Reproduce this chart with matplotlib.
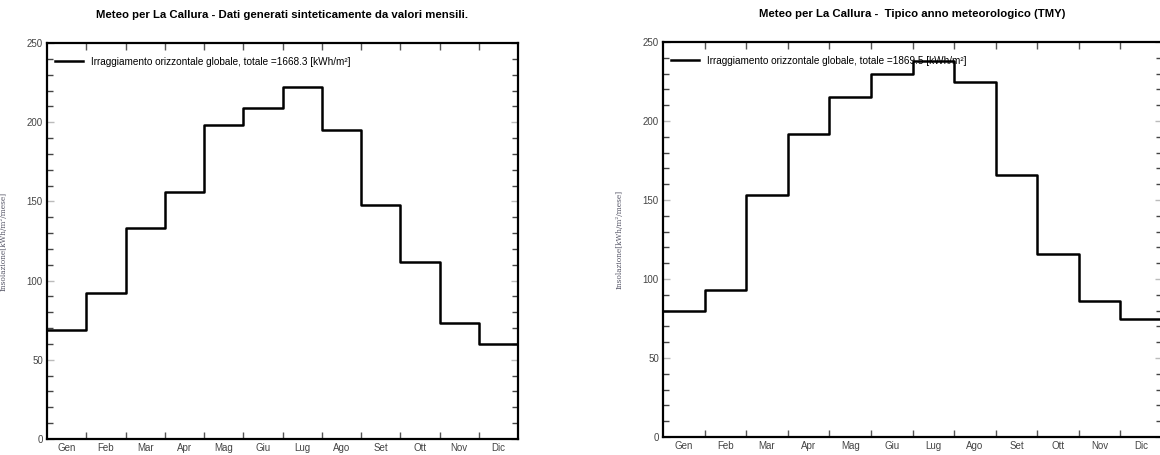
import matplotlib.pyplot as plt
from matplotlib.ticker import MultipleLocator, FixedLocator, NullFormatter

plt.rcParams['font.family'] = ['Liberation Sans', 'DejaVu Sans']

# monthly global horizontal irradiation [kWh/m2/month]
mesi = ["Gen", "Feb", "Mar", "Apr", "Mag", "Giu", "Lug", "Ago", "Set", "Ott", "Nov", "Dic"]
sintetici = [69, 92, 133, 156, 198, 209, 222, 195, 148, 112, 73, 60]
tmy = [80, 93, 153, 192, 215, 230, 238, 225, 166, 116, 86, 75]

titoli = ["Meteo per La Callura - Dati generati sinteticamente da valori mensili.",
          "Meteo per La Callura -  Tipico anno meteorologico (TMY)"]
legende = ["Irraggiamento orizzontale globale, totale =1668.3 [kWh/m\u00b2]",
           "Irraggiamento orizzontale globale, totale =1869.5 [kWh/m\u00b2]"]

W, H = 1160, 455
fig = plt.figure(figsize=(W / 100, H / 100), dpi=100)

# axes boxes in pixels: left, right, top, bottom
boxes = [(47, 518, 43, 439), (663, 1162, 42, 437)]

for serie, titolo, leg, (x0, x1, yt, yb) in zip([sintetici, tmy], titoli, legende, boxes):
    ax = fig.add_axes([x0 / W, 1 - yb / H, (x1 - x0) / W, (yb - yt) / H])
    x = list(range(13))
    y = serie + [serie[-1]]
    ax.step(x, y, where="post", color="black", lw=1.8, label=leg)
    ax.set_xlim(0, 12)
    ax.set_ylim(0, 250)

    for s in ax.spines.values():
        s.set_linewidth(1.6)

    # month boundaries as ticks, names at month centres
    ax.xaxis.set_major_locator(FixedLocator(range(1, 12)))
    ax.xaxis.set_major_formatter(NullFormatter())
    ax.set_xticks([i + 0.5 for i in range(12)], mesi, minor=True)
    ax.tick_params(axis="x", which="major", direction="in", length=5, width=1,
                   top=True, bottom=True, color="#555555")
    ax.tick_params(axis="x", which="minor", length=0, labelsize=7,
                   labelcolor="#444444", pad=3)

    ax.yaxis.set_major_locator(MultipleLocator(50))
    ax.yaxis.set_minor_locator(MultipleLocator(10))
    ax.tick_params(axis="y", which="major", direction="in", length=5, width=1,
                   left=True, right=True, color="#bbbbbb", labelsize=7,
                   labelcolor="#444444", pad=3)
    ax.tick_params(axis="y", which="minor", direction="in", length=4, width=1,
                   left=True, right=True, color="#444444")

    ax.set_ylabel("Insolazione[kWh/m\u00b2/mese]", family="DejaVu Serif",
                  fontsize=5.3, color="#555566", labelpad=14)
    ax.set_title(titolo, fontsize=8.2, fontweight="bold", pad=18, x=0.5)

    ax.legend(loc="upper left", frameon=False, fontsize=7.2, handlelength=2.8,
              borderaxespad=0.4, bbox_to_anchor=(0.0, 0.985))

fig.savefig("out.png", dpi=100)
